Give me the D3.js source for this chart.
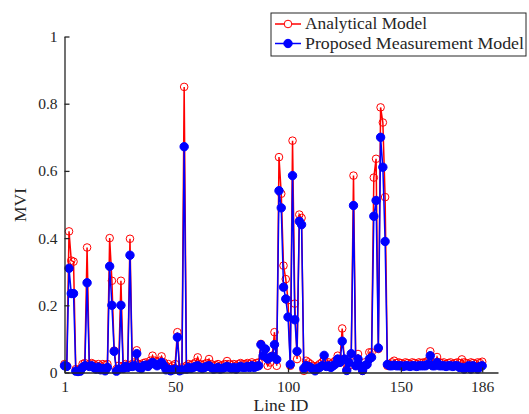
<!DOCTYPE html>
<html>
<head>
<meta charset="utf-8">
<script src="https://cdn.jsdelivr.net/npm/d3@7"></script>
<style>
  body { margin: 0; background: #fff; }
</style>
</head>
<body>
<div id="chart"></div>
<script>
// MVI per line (line IDs 1..186)
const analytical = [
	0.025, 0.02, 0.42, 0.333, 0.33, 0.01, 0.008, 0.01, 0.025, 0.028,
	0.372, 0.025, 0.028, 0.025, 0.02, 0.025, 0.02, 0.025, 0.022, 0.025,
	0.40, 0.273, 0.065, 0.01, 0.02, 0.273, 0.02, 0.025, 0.022, 0.398,
	0.025, 0.03, 0.066, 0.025, 0.022, 0.028, 0.03, 0.025, 0.035, 0.05,
	0.035, 0.03, 0.035, 0.048, 0.03, 0.02, 0.025, 0.015, 0.02, 0.025,
	0.12, 0.01, 0.015, 0.85, 0.02, 0.025, 0.022, 0.025, 0.03, 0.045,
	0.025, 0.022, 0.025, 0.028, 0.04, 0.025, 0.02, 0.022, 0.025, 0.02,
	0.022, 0.025, 0.034, 0.025, 0.022, 0.025, 0.02, 0.025, 0.028, 0.025,
	0.025, 0.028, 0.025, 0.03, 0.025, 0.028, 0.03, 0.085, 0.06, 0.045,
	0.02, 0.03, 0.05, 0.12, 0.02, 0.641, 0.532, 0.318, 0.278, 0.215,
	0.02, 0.69, 0.205, 0.04, 0.47, 0.46, 0.005, 0.035, 0.03, 0.025,
	0.02, 0.015, 0.02, 0.025, 0.03, 0.04, 0.025, 0.03, 0.025, 0.03,
	0.035, 0.05, 0.04, 0.131, 0.03, 0.01, 0.02, 0.05, 0.586, 0.02,
	0.055, 0.02, 0.005, 0.03, 0.025, 0.06, 0.06, 0.58, 0.636, 0.07,
	0.789, 0.744, 0.522, 0.02, 0.025, 0.03, 0.035, 0.028, 0.03, 0.028,
	0.025, 0.03, 0.028, 0.025, 0.03, 0.028, 0.025, 0.03, 0.028, 0.03,
	0.03, 0.035, 0.063, 0.03, 0.028, 0.046, 0.03, 0.028, 0.03, 0.025,
	0.028, 0.03, 0.025, 0.028, 0.03, 0.028, 0.039, 0.03, 0.028, 0.025,
	0.03, 0.028, 0.025, 0.03, 0.028, 0.032
];

const measured = [
	0.02, 0.018, 0.31, 0.235, 0.235, 0.004, 0.003, 0.004, 0.015, 0.02,
	0.267, 0.018, 0.02, 0.015, 0.01, 0.016, 0.008, 0.012, 0.005, 0.015,
	0.316, 0.20, 0.063, 0.004, 0.01, 0.20, 0.012, 0.018, 0.015, 0.349,
	0.018, 0.02, 0.056, 0.015, 0.012, 0.02, 0.022, 0.018, 0.025, 0.03,
	0.025, 0.02, 0.025, 0.03, 0.02, 0.008, 0.01, 0.005, 0.008, 0.01,
	0.105, 0.005, 0.008, 0.672, 0.01, 0.015, 0.012, 0.015, 0.018, 0.02,
	0.015, 0.012, 0.015, 0.018, 0.02, 0.015, 0.01, 0.012, 0.015, 0.01,
	0.012, 0.015, 0.018, 0.015, 0.012, 0.015, 0.01, 0.015, 0.018, 0.015,
	0.015, 0.018, 0.015, 0.02, 0.015, 0.018, 0.02, 0.083, 0.05, 0.07,
	0.04, 0.045, 0.048, 0.083, 0.039, 0.541, 0.49, 0.254, 0.219, 0.165,
	0.024, 0.586, 0.157, 0.063, 0.45, 0.44, 0.012, 0.02, 0.018, 0.015,
	0.01, 0.005, 0.012, 0.015, 0.02, 0.051, 0.018, 0.02, 0.015, 0.02,
	0.025, 0.04, 0.03, 0.093, 0.04, 0.006, 0.03, 0.056, 0.497, 0.02,
	0.04, 0.02, 0.006, 0.02, 0.024, 0.04, 0.045, 0.465, 0.512, 0.073,
	0.70, 0.611, 0.39, 0.024, 0.02, 0.02, 0.022, 0.02, 0.02, 0.02,
	0.018, 0.02, 0.02, 0.018, 0.02, 0.02, 0.018, 0.02, 0.02, 0.02,
	0.02, 0.025, 0.05, 0.02, 0.02, 0.03, 0.02, 0.02, 0.02, 0.018,
	0.02, 0.02, 0.018, 0.02, 0.02, 0.015, 0.015, 0.01, 0.015, 0.02,
	0.01, 0.02, 0.015, 0.01, 0.018, 0.02
];

const xTicks = [1, 50, 100, 150, 186];
const yTicks = [0, 0.2, 0.4, 0.6, 0.8, 1];
const seriesNames = ["Analytical Model", "Proposed Measurement Model"];

const width = 529;
const height = 414;
const serif = "'Liberation Serif', 'Times New Roman', Tinos, 'DejaVu Serif', serif";
const ink = "#262626";

const svg = d3
	.select("#chart")
	.append("svg")
	.attr("width", width)
	.attr("height", height)
	.attr("font-family", serif);

// axis limits: x runs a bit past the last line like MATLAB's auto limit
const x = d3.scaleLinear().domain([1, 193]).range([64.5, 498]);
const y = d3.scaleLinear().domain([0, 1]).range([372.5, 36.5]);

const series = [
	{ name: seriesNames[0], values: analytical, color: "#ff0000", filled: false, width: 122 },
	{ name: seriesNames[1], values: measured, color: "#0000ff", filled: true, width: 219 },
];

const line = d3
	.line()
	.x((d, i) => x(i + 1))
	.y((d) => y(d));

series.forEach((s) => {
	const g = svg.append("g");
	g.append("path")
		.attr("d", line(s.values))
		.attr("fill", "none")
		.attr("stroke", s.color)
		.attr("stroke-width", 1.5);
	g.selectAll("circle")
		.data(s.values)
		.enter()
		.append("circle")
		.attr("cx", (d, i) => x(i + 1))
		.attr("cy", (d) => y(d))
		.attr("r", s.filled ? 4.2 : 3.8)
		.attr("fill", s.filled ? s.color : "none")
		.attr("stroke", s.color)
		.attr("stroke-width", 1);
});

// axes, ticks pointing inward
const xAxis = svg
	.append("g")
	.attr("transform", `translate(0, ${y(0)})`)
	.call(d3.axisBottom(x).tickValues(xTicks).tickSizeInner(-5).tickSizeOuter(0).tickPadding(8));

const yAxis = svg
	.append("g")
	.attr("transform", `translate(${x(1)}, 0)`)
	.call(
		d3.axisLeft(y)
			.tickValues(yTicks)
			.tickSizeInner(-5)
			.tickSizeOuter(0)
			.tickPadding(7)
			.tickFormat((d) => (d === 0 || d === 1 ? d3.format("d")(d) : d3.format(".1f")(d)))
	);

[xAxis, yAxis].forEach((a) => {
	a.attr("font-family", serif).attr("font-size", 15.5);
	a.select(".domain").attr("stroke", ink).attr("stroke-width", 1.3);
	a.selectAll(".tick line").attr("stroke", ink).attr("stroke-width", 1.3);
	a.selectAll(".tick text").attr("fill", ink);
});

svg.append("text")
	.attr("x", 281)
	.attr("y", 411)
	.attr("text-anchor", "middle")
	.attr("font-size", 17.5)
	.attr("fill", ink)
	.text("Line ID");

svg.append("text")
	.attr("transform", "translate(26, 205) rotate(-90)")
	.attr("text-anchor", "middle")
	.attr("font-size", 17.5)
	.attr("fill", ink)
	.text("MVI");

// legend box
const legend = svg.append("g").attr("transform", "translate(271, 13)");

legend.append("rect")
	.attr("width", 255)
	.attr("height", 43)
	.attr("fill", "#fff")
	.attr("stroke", ink)
	.attr("stroke-width", 1);

const legendItem = legend
	.selectAll("g.item")
	.data(series)
	.enter()
	.append("g")
	.attr("class", "item")
	.attr("transform", (d, i) => `translate(0, ${11 + i * 19.5})`);

legendItem.append("line")
	.attr("x1", 4)
	.attr("x2", 30)
	.attr("stroke", (d) => d.color)
	.attr("stroke-width", 1.5);

legendItem.append("circle")
	.attr("cx", 17)
	.attr("r", (d) => (d.filled ? 4.2 : 3.8))
	.attr("fill", (d) => (d.filled ? d.color : "#fff"))
	.attr("stroke", (d) => d.color);

legendItem.append("text")
	.attr("x", 34)
	.attr("y", 5)
	.attr("font-size", 17)
	.attr("fill", ink)
	.attr("textLength", (d) => d.width)
	.attr("lengthAdjust", "spacingAndGlyphs")
	.text((d) => d.name);
</script>
</body>
</html>
